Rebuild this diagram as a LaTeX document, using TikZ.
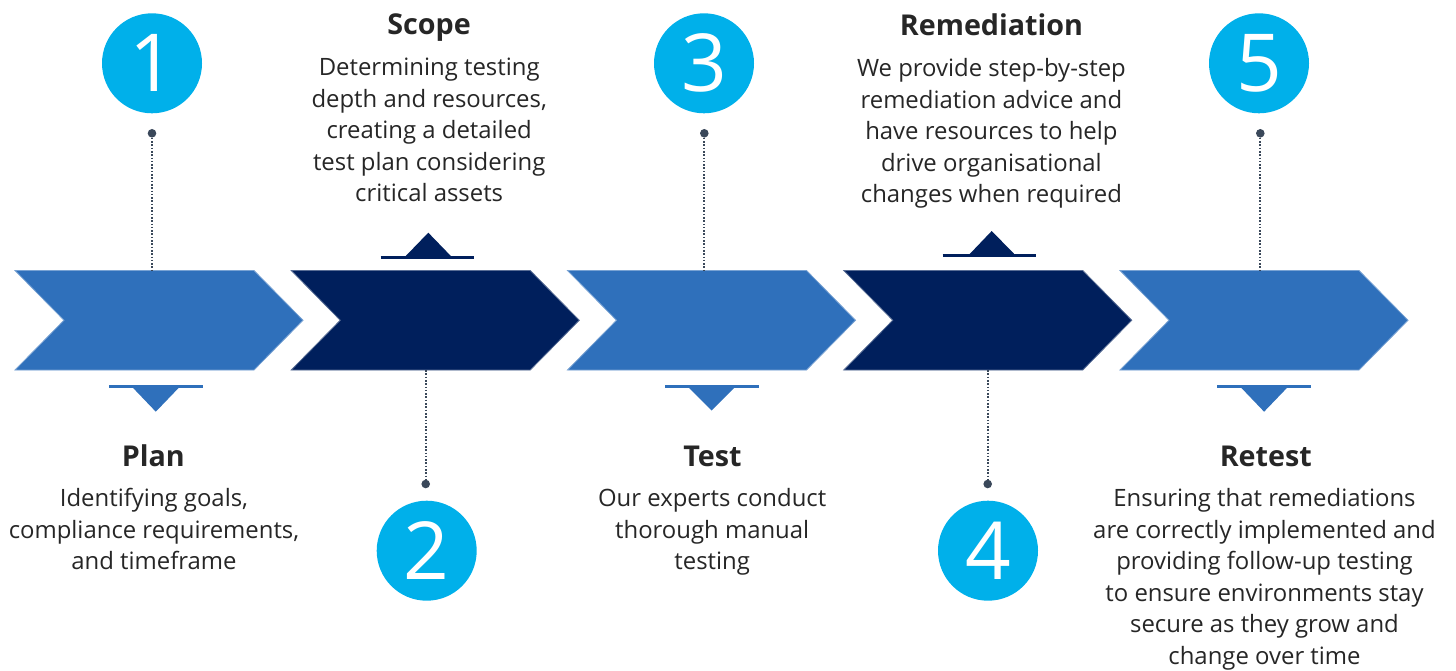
\documentclass[tikz,border=0pt]{standalone}
\usepackage{fontspec}
\setmainfont{Open Sans}
\definecolor{chevlight}{RGB}{47,112,187}
\definecolor{chevdark}{RGB}{0,31,92}
\definecolor{badge}{RGB}{0,176,234}
\definecolor{pinline}{RGB}{58,72,90}
\definecolor{bodytext}{RGB}{38,38,38}
\begin{document}
\begin{tikzpicture}[x=1pt,y=-1pt,
  chevron/.pic={\path[pic actions] (0,0) -- (239,0) -- (288,49.75) -- (239,99.5)
                 -- (0,99.5) -- (49,49.75) -- cycle;},
  lightchev/.style={fill=chevlight, draw=chevlight!65!white, line width=0.8pt},
  darkchev/.style={fill=chevdark, draw=chevdark!65!white, line width=0.8pt},
  numcircle/.style={circle, fill=badge, minimum size=100pt, inner sep=0pt,
                    text=white, font=\fontsize{80}{80}\selectfont},
  pindot/.style={circle, fill=pinline, minimum size=8.6pt, inner sep=0pt},
  dotline/.style={draw=pinline, line width=2pt, dash pattern=on 1.6pt off 1.7pt},
  barline/.style={line width=2.6pt},
  title/.style={anchor=base, text=bodytext, inner sep=0pt,
                font=\bfseries\fontsize{28.7}{34}\selectfont},
  body/.style={anchor=north, align=center, text=bodytext, inner sep=0pt,
               font=\fontsize{23.9}{31.5}\selectfont}
]
\useasboundingbox (0,0) rectangle (1456,671);

% five chevrons of the process bar
\pic[lightchev] at (15,270.5)     {chevron};
\pic[darkchev]  at (291.25,270.5) {chevron};
\pic[lightchev] at (567.5,270.5)  {chevron};
\pic[darkchev]  at (843.75,270.5) {chevron};
\pic[lightchev] at (1120,270.5)   {chevron};

% attachment points on the chevron edges
\coordinate (c1) at (152,270.5);
\coordinate (c2) at (425.7,370);
\coordinate (c3) at (704.3,270.5);
\coordinate (c4) at (987.7,370);
\coordinate (c5) at (1260.3,270.5);

% numbered badges
\node[numcircle] (n1) at (152,63.3)   {1};
\node[numcircle] (n2) at (426.7,550.7) {2};
\node[numcircle] (n3) at (704,63.3)   {3};
\node[numcircle] (n4) at (988,550.7)  {4};
\node[numcircle] (n5) at (1259,63.3)  {5};

% pins with dotted leaders
\node[pindot] (d1) at (152,133.3)  {};
\node[pindot] (d2) at (425.7,484)  {};
\node[pindot] (d3) at (704.3,133.3) {};
\node[pindot] (d4) at (987.7,484)  {};
\node[pindot] (d5) at (1260.3,133.3) {};
\draw[dotline] (d1) -- (c1);
\draw[dotline] (c2) -- (d2);
\draw[dotline] (d3) -- (c3);
\draw[dotline] (c4) -- (d4);
\draw[dotline] (d5) -- (c5);

% small pointer markers
\draw[barline, chevlight] (109,386.5) -- (202.7,386.5);
\fill[chevlight] (131.7,386.5) -- (180,386.5) -- (155.8,411.7) -- cycle;
\draw[barline, chevdark] (380.7,257.5) -- (474,257.5);
\fill[chevdark] (404.3,257.5) -- (452.3,257.5) -- (428.3,232.7) -- cycle;
\draw[barline, chevlight] (665,386.5) -- (759,386.5);
\fill[chevlight] (687.7,386.5) -- (735.7,386.5) -- (711.7,410.5) -- cycle;
\draw[barline, chevdark] (942.7,255.5) -- (1036,255.5);
\fill[chevdark] (968.3,255.5) -- (1015.7,255.5) -- (991.7,231) -- cycle;
\draw[barline, chevlight] (1217.3,386.5) -- (1311,386.5);
\fill[chevlight] (1240,386.5) -- (1288.3,386.5) -- (1264.1,411.7) -- cycle;

% step titles and descriptions
\node[title] (t2) at (429,35) {Scope};
\node[body]  (b2) at (429.2,58.2) {Determining testing\\depth and resources,\\creating a detailed\\test plan considering\\critical assets};

\node[title] (t4) at (991.5,36) {Remediation};
\node[body]  (b4) at (991.4,58.2) {We provide step-by-step\\remediation advice and\\have resources to help\\drive organisational\\changes when required};

\node[title] (t1) at (153.3,466) {Plan};
\node[body]  (b1) at (154,488.2) {Identifying goals,\\compliance requirements,\\and timeframe};

\node[title] (t3) at (712.5,466) {Test};
\node[body]  (b3) at (712.2,488.2) {Our experts conduct\\thorough manual\\testing};

\node[title] (t5) at (1265.8,466) {Retest};
\node[body]  (b5) at (1264.5,488.2) {Ensuring that remediations\\are correctly implemented and\\providing follow-up testing\\to ensure environments stay\\secure as they grow and\\change over time};
\end{tikzpicture}
\end{document}
